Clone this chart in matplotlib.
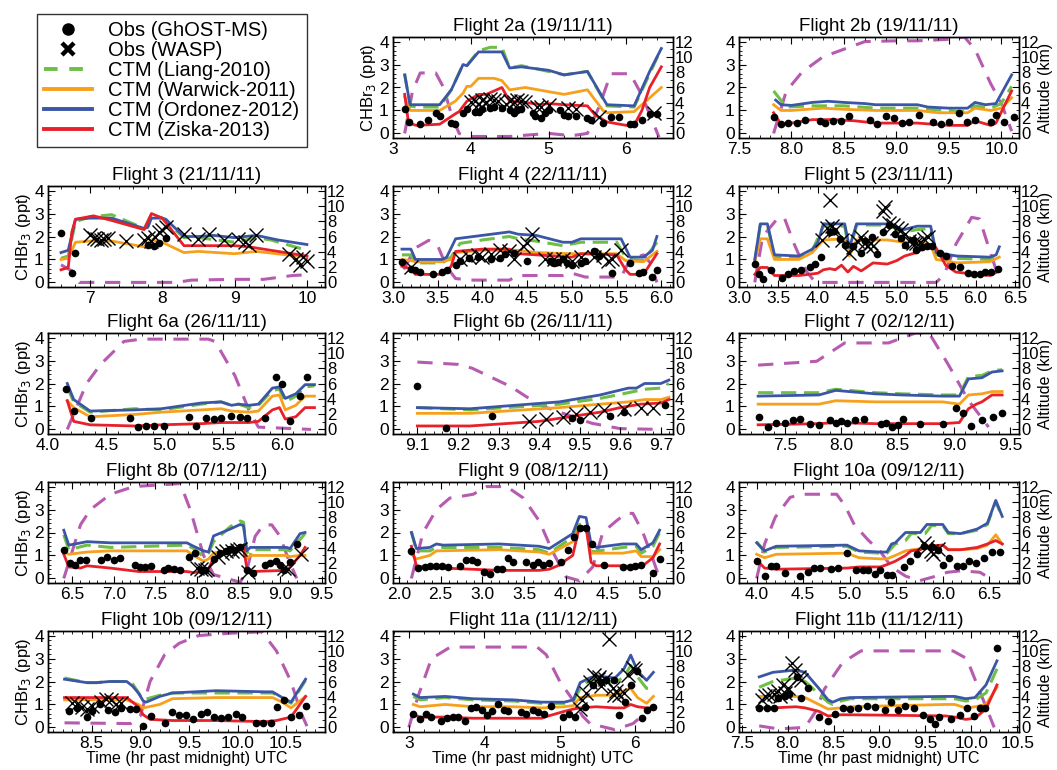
import matplotlib
matplotlib.use("Agg")
import matplotlib.pyplot as plt
from matplotlib.lines import Line2D
from matplotlib.ticker import AutoMinorLocator, FormatStrFormatter

plt.rcParams["font.family"] = ["Liberation Sans", "DejaVu Sans"]

GREEN = "#6dbf45"
ORANGE = "#f7a01c"
BLUE = "#3b56a6"
RED = "#e8202a"
PURPLE = "#b65bb0"

# ---- Flight 2a ----
f2a_liang = [(3.15, 2.6), (3.22, 1.2), (3.3, 1.15), (3.6, 1.15), (3.75, 1.9), (3.9, 3.0), (3.95, 2.95), (4.1, 3.6),
             (4.25, 3.75), (4.4, 3.75), (4.5, 2.85), (4.65, 2.95), (5.0, 2.7), (5.2, 2.55), (5.5, 2.7), (5.75, 1.2),
             (6.1, 1.15), (6.3, 2.6), (6.45, 3.7)]
f2a_warwick = [(3.15, 1.6), (3.22, 1.0), (3.6, 1.0), (3.8, 1.4), (3.9, 1.75), (3.95, 2.05), (4.0, 2.05), (4.1, 2.4),
               (4.3, 2.4), (4.4, 2.3), (4.5, 1.9), (4.7, 2.0), (5.2, 1.7), (5.5, 1.9), (5.7, 1.0), (5.75, 0.9),
               (6.1, 0.95), (6.45, 2.0)]
f2a_ordonez = [(3.15, 2.55), (3.22, 1.25), (3.6, 1.25), (3.75, 1.9), (3.9, 3.0), (3.95, 2.95), (4.1, 3.55), (4.4, 3.55),
               (4.5, 2.85), (4.65, 2.9), (5.0, 2.75), (5.2, 2.55), (5.5, 2.7), (5.75, 1.25), (6.1, 1.2), (6.3, 2.7),
               (6.45, 3.7)]
f2a_ziska = [(3.15, 1.7), (3.2, 0.45), (3.3, 0.35), (3.6, 0.4), (3.8, 0.85), (3.85, 0.95), (3.95, 1.4), (4.1, 1.7),
             (4.2, 1.7), (4.4, 2.0), (4.5, 1.4), (4.7, 1.35), (4.9, 1.25), (5.0, 1.3), (5.2, 1.25), (5.5, 1.2),
             (5.6, 0.8), (5.75, 0.5), (6.0, 0.35), (6.1, 0.35), (6.2, 1.0), (6.3, 2.0), (6.45, 2.9)]
f2a_alt = [(3.15, 0.0), (3.25, 5.5), (3.35, 7.9), (3.55, 7.9), (3.65, 6.0), (3.75, 2.5), (3.85, 0.0), (3.95, -0.4),
           (4.5, -0.4), (5.0, 0.0), (5.3, -0.3), (5.5, 0.0), (5.65, 3.5), (5.8, 7.8), (6.05, 7.8), (6.2, 5.0),
           (6.42, -0.5)]
f2a_ghost = [(3.15, 1.05), (3.2, 0.5), (3.35, 0.4), (3.45, 0.6), (3.55, 0.9), (3.6, 0.75), (3.75, 0.45), (3.8, 0.4),
             (3.9, 0.9), (3.95, 1.05), (4.05, 0.95), (4.1, 0.95), (4.15, 1.05), (4.25, 1.1), (4.3, 1.15), (4.4, 1.1),
             (4.5, 1.0), (4.55, 0.9), (4.6, 1.0), (4.65, 1.05), (4.8, 0.9), (4.82, 0.75), (4.9, 0.65), (4.95, 0.9),
             (5.0, 1.0), (5.15, 1.0), (5.2, 0.8), (5.25, 0.75), (5.35, 0.75), (5.5, 0.65), (5.55, 0.6), (5.7, 0.45),
             (5.8, 0.7), (5.9, 0.7), (6.05, 0.4), (6.1, 0.4), (6.2, 0.6), (6.3, 0.85), (6.4, 0.85)]
f2a_wasp = [(4.0, 1.35), (4.05, 1.4), (4.1, 1.3), (4.15, 1.45), (4.2, 1.35), (4.25, 1.5), (4.3, 1.45), (4.35, 1.4),
            (4.45, 1.3), (4.5, 1.4), (4.55, 1.35), (4.6, 1.45), (4.65, 1.4), (4.7, 1.35), (4.85, 1.15), (4.9, 1.15),
            (5.0, 1.25), (5.25, 1.1), (5.35, 1.05), (5.65, 0.7), (6.35, 0.9)]

# ---- Flight 2b ----
f2b_liang = [(7.83, 1.85), (7.95, 1.15), (8.2, 1.2), (8.5, 1.2), (8.8, 1.1), (9.2, 1.1), (9.6, 0.95), (9.68, 0.95),
             (9.75, 1.2), (9.9, 1.1), (10.0, 1.3), (10.1, 2.05)]
f2b_warwick = [(7.83, 1.25), (7.9, 1.0), (8.0, 1.0), (8.3, 1.1), (8.5, 1.05), (8.8, 1.0), (9.2, 1.0), (9.4, 0.9),
               (9.68, 0.9), (9.75, 1.1), (9.9, 1.0), (10.0, 1.1), (10.1, 1.55)]
f2b_ordonez = [(7.85, 1.45), (7.9, 1.25), (8.0, 1.22), (8.2, 1.35), (8.35, 1.4), (8.5, 1.35), (8.7, 1.3), (8.8, 1.25),
               (9.2, 1.25), (9.3, 1.15), (9.5, 1.1), (9.68, 1.1), (9.75, 1.35), (9.85, 1.25), (9.95, 1.3), (10.1, 2.55)]
f2b_ziska = [(7.83, 0.9), (7.9, 0.4), (8.0, 0.45), (8.2, 0.6), (8.4, 0.6), (8.6, 0.55), (8.8, 0.45), (9.2, 0.45),
             (9.5, 0.35), (9.68, 0.35), (9.75, 0.55), (9.9, 0.35), (9.95, 0.45), (10.1, 1.85)]
f2b_alt = [(7.83, 0.0), (7.95, 5.5), (8.1, 8.0), (8.3, 10.0), (8.5, 11.0), (8.7, 12.0), (9.0, 12.1), (9.2, 12.1),
           (9.5, 12.3), (9.65, 12.6), (9.75, 11.0), (9.9, 6.5), (10.0, 4.0), (10.1, 0.3)]
f2b_ghost = [(7.83, 0.7), (7.9, 0.4), (7.97, 0.45), (8.05, 0.45), (8.13, 0.6), (8.27, 0.55), (8.32, 0.45), (8.4, 0.55),
             (8.47, 0.55), (8.55, 0.75), (8.75, 0.6), (8.82, 0.4), (8.9, 0.75), (8.98, 0.65), (9.05, 0.45), (9.12, 0.5),
             (9.22, 0.8), (9.35, 0.5), (9.43, 0.4), (9.5, 0.5), (9.6, 0.9), (9.67, 0.5), (9.75, 0.6), (9.9, 0.5),
             (9.95, 0.8), (10.03, 0.5), (10.12, 0.7)]
f2b_wasp = []

# ---- Flight 3 ----
f3_liang = [(6.6, 1.05), (6.7, 1.15), (6.8, 2.65), (7.0, 2.85), (7.3, 2.95), (7.75, 2.35), (7.85, 2.95), (8.0, 2.8),
            (8.3, 1.95), (8.5, 1.95), (9.0, 1.75), (9.3, 1.95), (9.5, 1.85), (10.0, 1.4)]
f3_warwick = [(6.6, 1.0), (6.7, 1.05), (6.8, 1.75), (7.0, 1.8), (7.3, 1.8), (7.75, 1.55), (7.85, 1.85), (8.0, 1.75),
              (8.3, 1.3), (8.5, 1.35), (9.0, 1.25), (9.3, 1.35), (10.0, 1.1)]
f3_ordonez = [(6.6, 1.3), (6.7, 1.4), (6.8, 2.75), (7.0, 2.8), (7.3, 2.8), (7.75, 2.35), (7.8, 2.4), (7.85, 2.8),
              (8.0, 2.8), (8.05, 2.75), (8.3, 2.0), (8.5, 2.0), (8.7, 2.05), (9.0, 1.95), (9.3, 2.05), (9.6, 1.85),
              (10.0, 1.65)]
f3_ziska = [(6.6, 0.55), (6.7, 0.65), (6.75, 2.2), (6.8, 2.75), (7.05, 2.9), (7.3, 2.7), (7.75, 2.3), (7.85, 3.0),
            (8.0, 2.8), (8.3, 1.6), (8.5, 1.6), (9.0, 1.6), (9.2, 1.55), (10.0, 1.15)]
f3_alt = [(6.6, 2.3), (6.75, 1.5), (6.85, 0.0), (7.5, 0.0), (8.2, 0.0), (8.4, 0.3), (9.0, 0.4), (9.4, 0.4), (9.8, 0.9),
          (10.0, 1.0)]
f3_ghost = [(6.6, 2.15), (6.75, 0.4), (6.8, 1.3), (7.8, 1.65), (7.88, 1.6), (7.95, 1.7), (8.05, 1.95)]
f3_wasp = [(7.0, 2.05), (7.05, 1.95), (7.1, 1.9), (7.15, 1.85), (7.2, 1.9), (7.25, 1.95), (7.5, 1.8), (7.75, 1.85),
           (7.8, 1.95), (7.85, 1.8), (7.9, 2.0), (7.95, 2.2), (8.0, 2.3), (8.05, 2.4), (8.3, 2.1), (8.5, 1.9),
           (8.65, 2.1), (8.85, 1.85), (9.05, 1.9), (9.15, 1.75), (9.2, 1.65), (9.3, 2.05), (9.75, 1.25), (9.85, 1.0),
           (9.9, 0.75), (9.95, 1.1), (10.0, 0.95)]

# ---- Flight 4 ----
f4_liang = [(3.1, 1.2), (3.2, 1.2), (3.25, 0.85), (3.55, 0.85), (3.65, 1.1), (3.75, 1.7), (4.0, 1.85), (4.3, 2.0),
            (4.4, 1.9), (4.6, 1.8), (4.9, 1.6), (5.1, 1.75), (5.5, 1.75), (5.6, 1.1), (5.65, 1.0), (5.8, 0.95),
            (5.95, 1.75)]
f4_warwick = [(3.1, 1.0), (3.2, 0.95), (3.25, 0.9), (3.55, 0.9), (3.65, 1.0), (3.7, 1.3), (4.0, 1.4), (4.4, 1.4),
              (4.6, 1.3), (5.0, 1.25), (5.5, 1.25), (5.6, 0.95), (5.8, 0.9), (5.95, 1.35)]
f4_ordonez = [(3.1, 1.45), (3.2, 1.45), (3.25, 1.0), (3.55, 1.0), (3.6, 1.1), (3.7, 1.9), (4.3, 2.2), (4.4, 2.1),
              (4.6, 2.05), (4.9, 1.75), (5.0, 1.75), (5.1, 1.9), (5.55, 1.9), (5.65, 1.1), (5.8, 1.1), (5.9, 1.4),
              (5.95, 2.0)]
f4_ziska = [(3.1, 0.7), (3.2, 0.6), (3.25, 0.35), (3.55, 0.35), (3.65, 0.7), (3.7, 1.35), (4.0, 1.45), (4.3, 1.45),
            (4.4, 1.25), (4.6, 1.2), (5.0, 1.1), (5.1, 1.25), (5.5, 1.2), (5.6, 0.55), (5.65, 0.35), (5.8, 0.35),
            (5.95, 1.25)]
f4_alt = [(3.12, 1.7), (3.25, 4.5), (3.4, 5.5), (3.5, 4.8), (3.6, 2.0), (3.7, 0.5), (3.9, 0.3), (4.3, 0.3), (4.4, 0.9),
          (4.9, 0.9), (5.0, 1.2), (5.15, 0.7), (5.55, 0.7), (5.65, 3.0), (5.8, 3.6), (5.88, 2.5), (5.95, 0.0)]
f4_ghost = [(3.1, 0.9), (3.2, 0.6), (3.25, 0.55), (3.3, 0.45), (3.45, 0.35), (3.55, 0.45), (3.6, 0.55), (3.7, 0.75),
            (3.75, 0.95), (3.85, 1.05), (3.95, 1.1), (4.1, 1.0), (4.2, 1.05), (4.25, 1.25), (4.35, 1.3), (4.5, 0.95),
            (4.75, 0.95), (4.8, 0.85), (4.85, 0.9), (4.9, 1.0), (4.95, 0.85), (5.0, 0.75), (5.1, 0.85), (5.15, 0.95),
            (5.25, 1.35), (5.3, 1.15), (5.45, 0.4), (5.65, 0.85), (5.75, 0.4), (5.8, 0.45), (5.9, 0.25), (5.95, 0.55)]
f4_wasp = [(3.2, 0.65), (3.75, 1.0), (3.85, 1.1), (3.95, 1.2), (4.0, 1.1), (4.1, 1.25), (4.2, 1.4), (4.3, 1.35),
           (4.35, 1.0), (4.45, 1.6), (4.5, 1.7), (4.55, 2.1), (4.7, 1.0), (4.8, 1.0), (4.9, 1.0), (5.0, 0.95),
           (5.1, 1.1), (5.25, 1.1), (5.35, 1.2), (5.4, 0.95), (5.45, 1.0), (5.55, 1.4)]

# ---- Flight 5 ----
f5_liang = [(3.2, 0.9), (3.27, 2.5), (3.36, 2.5), (3.45, 1.1), (3.76, 1.1), (3.93, 1.4), (4.07, 2.45), (4.34, 2.45),
            (4.4, 1.3), (4.49, 2.5), (4.88, 2.5), (5.09, 2.2), (5.26, 2.3), (5.43, 2.35), (5.5, 1.2), (5.76, 1.05),
            (6.18, 1.0), (6.3, 1.35)]
f5_warwick = [(3.2, 0.9), (3.27, 1.9), (3.36, 1.9), (3.45, 1.0), (3.76, 1.0), (3.93, 1.3), (4.07, 1.85), (4.34, 1.9),
              (4.4, 1.15), (4.49, 1.85), (4.88, 1.85), (5.09, 1.75), (5.26, 1.75), (5.43, 1.65), (5.5, 1.0),
              (5.76, 0.85), (6.18, 0.9), (6.3, 1.1)]
f5_ordonez = [(3.2, 1.0), (3.27, 2.55), (3.36, 2.55), (3.45, 1.2), (3.76, 1.15), (3.93, 1.45), (4.0, 1.75),
              (4.07, 2.55), (4.34, 2.55), (4.4, 1.5), (4.49, 2.55), (4.88, 2.55), (5.09, 2.3), (5.26, 2.45),
              (5.43, 2.45), (5.5, 1.3), (5.76, 1.15), (6.18, 1.1), (6.26, 1.2), (6.3, 1.55)]
f5_ziska = [(3.2, 0.35), (3.27, 0.65), (3.36, 0.65), (3.45, 0.3), (3.76, 0.3), (4.0, 0.4), (4.07, 0.55), (4.15, 0.6),
            (4.22, 0.55), (4.3, 0.75), (4.38, 0.45), (4.45, 0.7), (4.55, 0.5), (4.7, 0.85), (4.88, 0.8), (5.0, 0.95),
            (5.1, 1.15), (5.25, 1.3), (5.4, 1.6), (5.5, 1.5), (5.62, 0.75), (5.75, 0.45), (6.0, 0.35), (6.18, 0.3),
            (6.3, 0.5)]
f5_alt = [(3.2, 0.0), (3.3, 6.0), (3.5, 8.5), (3.58, 8.3), (3.7, 5.0), (3.85, 1.5), (3.97, 0.0), (5.5, 0.0), (5.6, 1.0),
          (5.75, 5.0), (5.95, 8.5), (6.05, 8.3), (6.2, 3.5), (6.28, 1.0)]
f5_ghost = [(3.2, 0.8), (3.25, 0.35), (3.3, 0.15), (3.4, 0.55), (3.55, 0.2), (3.62, 0.35), (3.7, 0.5), (3.78, 0.55),
            (3.9, 0.65), (3.96, 0.8), (4.04, 1.1), (4.15, 2.2), (4.2, 2.25), (4.28, 1.9), (4.35, 1.65), (4.45, 1.6),
            (4.55, 1.3), (4.6, 1.8), (4.68, 2.0), (4.75, 1.25), (4.82, 2.2), (4.9, 2.5), (4.98, 2.1), (5.05, 1.95),
            (5.1, 1.65), (5.2, 1.85), (5.25, 1.4), (5.32, 1.55), (5.38, 1.6), (5.45, 1.6), (5.55, 1.3), (5.63, 1.15),
            (5.7, 0.7), (5.8, 0.65), (5.9, 0.4), (5.98, 0.35), (6.05, 0.35), (6.12, 0.45), (6.2, 0.45), (6.28, 0.6)]
f5_wasp = [(4.05, 1.85), (4.12, 2.35), (4.15, 3.6), (4.18, 2.45), (4.22, 2.3), (4.3, 1.85), (4.4, 1.3), (4.45, 1.55),
           (4.5, 1.8), (4.55, 2.0), (4.6, 1.7), (4.62, 1.6), (4.67, 1.7), (4.7, 1.6), (4.82, 3.1), (4.85, 3.3),
           (4.9, 2.6), (4.95, 2.5), (5.0, 2.35), (5.05, 2.3), (5.1, 2.1), (5.15, 1.8), (5.2, 1.7), (5.25, 1.7),
           (5.3, 1.75), (5.35, 1.9), (5.4, 2.0)]

# ---- Flight 6a ----
f6a_liang = [(4.165, 1.85), (4.22, 1.2), (4.36, 0.75), (4.74, 0.9), (4.97, 0.85), (5.31, 1.1), (5.48, 1.2), (5.57, 1.05),
             (5.63, 1.1), (5.72, 0.95), (5.8, 1.05), (5.92, 1.7), (5.98, 1.75), (6.03, 1.2), (6.12, 1.45), (6.2, 1.85),
             (6.28, 1.9)]
f6a_warwick = [(4.165, 1.25), (4.22, 0.95), (4.36, 0.55), (4.74, 0.65), (4.97, 0.75), (5.31, 0.85), (5.48, 0.9),
               (5.57, 0.8), (5.72, 0.75), (5.8, 0.8), (5.92, 1.45), (5.98, 1.5), (6.03, 0.85), (6.12, 1.05),
               (6.2, 1.45), (6.28, 1.45)]
f6a_ordonez = [(4.165, 2.0), (4.22, 1.3), (4.36, 0.8), (4.74, 0.85), (4.97, 0.9), (5.31, 1.15), (5.48, 1.2),
               (5.57, 1.05), (5.63, 1.1), (5.72, 1.05), (5.8, 1.1), (5.92, 1.8), (5.98, 1.85), (6.03, 1.35),
               (6.12, 1.55), (6.2, 1.95), (6.28, 1.95)]
f6a_ziska = [(4.165, 1.25), (4.22, 0.35), (4.36, 0.2), (4.74, 0.15), (4.97, 0.2), (5.31, 0.25), (5.48, 0.3),
             (5.72, 0.3), (5.8, 0.35), (5.92, 0.85), (5.98, 0.95), (6.03, 0.45), (6.12, 0.55), (6.2, 0.95),
             (6.28, 0.95)]
f6a_alt = [(4.165, 0.0), (4.33, 6.0), (4.45, 8.5), (4.65, 11.5), (4.8, 11.8), (5.37, 11.8), (5.43, 11.5), (5.6, 7.0),
           (5.72, 2.5), (5.8, 0.3), (6.25, 0.0)]
f6a_ghost = [(4.15, 1.75), (4.22, 0.8), (4.37, 0.5), (4.7, 0.5), (4.77, 0.1), (4.84, 0.15), (4.91, 0.15), (4.99, 0.15),
             (5.21, 0.55), (5.27, 0.15), (5.35, 0.5), (5.42, 0.45), (5.48, 0.5), (5.57, 0.6), (5.64, 0.55), (5.7, 0.5),
             (5.86, 0.5), (5.95, 2.27), (6.0, 1.96), (6.07, 0.35), (6.16, 1.45), (6.22, 2.3)]
f6a_wasp = []

# ---- Flight 6b ----
f6b_liang = [(9.1, 0.95), (9.23, 0.85), (9.45, 1.1), (9.55, 1.35), (9.62, 1.6), (9.66, 1.75), (9.7, 1.8), (9.72, 2.0)]
f6b_warwick = [(9.1, 0.7), (9.23, 0.7), (9.45, 0.95), (9.55, 1.1), (9.62, 1.2), (9.66, 1.3), (9.7, 1.3), (9.72, 1.4)]
f6b_ordonez = [(9.1, 0.95), (9.23, 0.9), (9.45, 1.2), (9.55, 1.5), (9.62, 1.8), (9.64, 1.8), (9.66, 2.0), (9.7, 2.0),
               (9.72, 2.15)]
f6b_ziska = [(9.1, 0.15), (9.23, 0.15), (9.4, 0.35), (9.55, 0.75), (9.6, 0.95), (9.65, 1.1), (9.7, 1.15), (9.72, 1.3)]
f6b_alt = [(9.1, 8.8), (9.2, 8.5), (9.235, 8.0), (9.33, 5.6), (9.4, 3.2), (9.47, 1.9), (9.53, 0.8), (9.6, 0.1),
           (9.7, 0.0)]
f6b_ghost = [(9.1, 1.9), (9.17, 0.05), (9.285, 0.58), (9.48, 0.5), (9.5, 0.4), (9.575, 0.6), (9.61, 0.75),
             (9.71, 1.05)]
f6b_wasp = [(9.375, 0.35), (9.417, 0.45), (9.46, 0.55), (9.49, 0.65), (9.525, 0.75), (9.56, 0.85), (9.61, 0.9),
            (9.65, 0.95), (9.68, 0.95)]

# ---- Flight 7 ----
f7_liang = [(7.26, 1.6), (7.8, 1.6), (7.95, 1.75), (8.3, 1.6), (8.54, 1.55), (8.9, 1.5), (9.05, 1.5), (9.13, 2.3),
            (9.25, 2.35), (9.34, 2.55), (9.43, 2.6)]
f7_warwick = [(7.26, 1.1), (7.8, 1.1), (7.95, 1.25), (8.3, 1.2), (8.9, 1.2), (9.05, 1.1), (9.13, 1.5), (9.25, 1.55),
              (9.34, 1.65), (9.43, 1.65)]
f7_ordonez = [(7.26, 1.45), (7.8, 1.5), (7.95, 1.7), (8.3, 1.55), (8.54, 1.5), (8.9, 1.45), (9.05, 1.45), (9.13, 2.2),
              (9.25, 2.25), (9.34, 2.5), (9.43, 2.55)]
f7_ziska = [(7.26, 0.2), (7.8, 0.25), (7.95, 0.3), (8.3, 0.25), (8.9, 0.25), (9.05, 0.3), (9.13, 0.9), (9.2, 1.1),
            (9.25, 1.2), (9.34, 1.5), (9.43, 1.5)]
f7_alt = [(7.26, 8.4), (7.78, 8.9), (8.03, 11.3), (8.42, 11.3), (8.66, 12.6), (8.78, 12.6), (8.95, 8.5), (9.13, 3.8),
          (9.31, 0.3)]
f7_ghost = [(7.27, 0.55), (7.35, 0.1), (7.42, 0.3), (7.5, 0.3), (7.57, 0.4), (7.63, 0.45), (7.72, 0.25), (7.8, 0.2),
            (7.9, 0.4), (7.95, 0.3), (8.0, 0.35), (8.05, 0.3), (8.12, 0.4), (8.2, 0.45), (8.35, 0.25), (8.4, 0.3),
            (8.45, 0.1), (8.5, 0.2), (8.55, 0.45), (8.7, 0.25), (8.9, 0.25), (9.02, 0.95), (9.08, 0.7), (9.15, 0.15),
            (9.25, 0.4), (9.35, 0.55), (9.43, 0.7)]
f7_wasp = []

# ---- Flight 8b ----
f8b_liang = [(6.4, 1.9), (6.46, 1.25), (6.68, 1.45), (6.96, 1.35), (7.88, 1.45), (7.96, 1.3), (8.08, 0.95), (8.14, 1.1),
             (8.2, 1.6), (8.4, 2.25), (8.52, 2.5), (8.56, 2.45), (8.6, 1.1), (8.64, 1.25), (9.08, 1.25), (9.12, 1.2),
             (9.24, 1.7), (9.3, 1.95)]
f8b_warwick = [(6.4, 1.15), (6.46, 1.05), (6.68, 1.15), (6.96, 1.2), (7.88, 1.2), (7.96, 1.0), (8.08, 0.75),
               (8.14, 0.85), (8.2, 1.1), (8.4, 1.25), (8.52, 1.35), (8.56, 1.3), (8.6, 0.85), (8.64, 1.0), (9.08, 1.0),
               (9.12, 0.95), (9.24, 1.0), (9.3, 1.0)]
f8b_ordonez = [(6.4, 2.1), (6.46, 1.45), (6.68, 1.6), (6.96, 1.55), (7.88, 1.55), (7.96, 1.4), (8.08, 1.2),
               (8.14, 1.15), (8.2, 1.85), (8.4, 2.15), (8.52, 2.35), (8.56, 2.3), (8.6, 1.2), (8.64, 1.35), (9.08, 1.35),
               (9.12, 1.3), (9.24, 1.95), (9.3, 2.0)]
f8b_ziska = [(6.4, 1.05), (6.46, 0.5), (6.6, 0.45), (6.68, 0.55), (6.96, 0.45), (7.3, 0.3), (7.88, 0.3), (7.96, 0.25),
             (8.08, 0.35), (8.14, 0.4), (8.2, 0.9), (8.4, 1.2), (8.52, 1.35), (8.56, 1.35), (8.6, 0.45), (8.64, 0.3),
             (9.08, 0.35), (9.12, 0.5), (9.24, 1.0), (9.3, 1.35)]
f8b_alt = [(6.4, 0.0), (6.6, 7.0), (6.72, 9.0), (6.96, 11.0), (7.24, 12.0), (7.8, 12.4), (7.92, 9.0), (8.08, 3.0),
           (8.2, 0.5), (8.52, -0.5), (8.6, 1.0), (8.7, 5.5), (8.8, 7.0), (8.9, 7.0), (9.0, 5.5), (9.1, 2.5),
           (9.2, 0.0)]
f8b_ghost = [(6.4, 1.25), (6.47, 0.65), (6.53, 0.6), (6.6, 0.8), (6.67, 0.8), (6.85, 0.8), (6.92, 0.95), (7.0, 0.8),
             (7.07, 0.9), (7.25, 0.6), (7.32, 0.5), (7.38, 0.5), (7.45, 0.55), (7.6, 0.35), (7.65, 0.45), (7.73, 0.4),
             (7.8, 0.35), (7.9, 0.95), (7.98, 1.1), (8.05, 0.35), (8.1, 0.35), (8.2, 0.85), (8.28, 1.1), (8.35, 1.2),
             (8.4, 1.3), (8.45, 1.25), (8.52, 1.35), (8.6, 0.35), (8.67, 0.25), (8.82, 0.6), (8.88, 0.65),
             (8.95, 0.75), (9.0, 0.6), (9.05, 0.35), (9.12, 0.7), (9.2, 1.5)]
f8b_wasp = [(8.0, 0.45), (8.05, 0.4), (8.1, 0.35), (8.12, 0.4), (8.25, 0.95), (8.3, 1.1), (8.35, 1.2), (8.42, 1.2),
            (8.48, 1.25), (8.52, 1.3), (8.62, 0.3), (9.05, 0.45), (9.1, 0.4), (9.25, 1.05)]

# ---- Flight 9 ----
f9_liang = [(2.15, 2.05), (2.21, 1.2), (2.37, 1.2), (2.45, 1.35), (3.2, 1.35), (3.68, 1.25), (3.8, 1.1), (4.08, 1.8),
            (4.16, 2.35), (4.24, 2.3), (4.3, 1.15), (4.68, 1.35), (4.84, 1.4), (4.9, 1.1), (5.04, 1.4), (5.12, 2.0)]
f9_warwick = [(2.15, 1.05), (2.21, 0.85), (2.37, 1.0), (2.45, 1.2), (3.2, 1.25), (3.68, 1.15), (3.8, 1.05),
              (4.08, 1.6), (4.16, 2.15), (4.24, 2.15), (4.3, 1.1), (4.68, 1.1), (4.84, 1.2), (4.9, 0.95), (5.04, 0.95),
              (5.12, 1.25)]
f9_ordonez = [(2.15, 2.0), (2.21, 1.3), (2.37, 1.35), (2.45, 1.5), (2.53, 1.45), (3.2, 1.5), (3.68, 1.4), (3.8, 1.3),
              (4.08, 1.95), (4.16, 2.7), (4.24, 2.65), (4.3, 1.5), (4.36, 1.35), (4.68, 1.5), (4.84, 1.5), (4.9, 1.25),
              (5.04, 1.55), (5.12, 2.1)]
f9_ziska = [(2.15, 1.4), (2.21, 0.55), (2.37, 0.45), (2.53, 0.45), (3.2, 0.35), (3.68, 0.35), (3.8, 0.4), (3.9, 0.55),
            (4.08, 1.0), (4.16, 2.25), (4.24, 2.25), (4.3, 0.7), (4.36, 0.55), (4.68, 0.55), (4.84, 0.5), (4.9, 0.5),
            (5.04, 0.9), (5.12, 1.5)]
f9_alt = [(2.15, 0.0), (2.29, 6.0), (2.45, 9.0), (2.61, 10.5), (2.73, 10.7), (2.89, 11.0), (3.05, 12.0), (3.29, 12.0),
          (3.49, 10.5), (3.68, 7.5), (3.84, 3.5), (4.0, 0.2), (4.16, -0.3), (4.32, 1.5), (4.44, 6.0), (4.6, 7.5),
          (4.72, 8.5), (4.8, 8.5), (4.92, 6.0), (5.04, 2.5), (5.12, 0.0)]
f9_ghost = [(2.15, 1.2), (2.23, 0.45), (2.31, 0.5), (2.37, 0.55), (2.45, 0.55), (2.52, 0.55), (2.59, 0.5), (2.73, 0.55),
            (2.8, 0.8), (2.87, 0.8), (2.94, 0.7), (3.02, 0.3), (3.09, 0.2), (3.17, 0.4), (3.23, 0.4), (3.31, 0.9),
            (3.37, 0.7), (3.52, 0.7), (3.6, 0.6), (3.66, 0.7), (3.73, 0.6), (3.8, 0.65), (3.94, 0.7), (4.02, 1.25),
            (4.09, 1.8), (4.17, 2.2), (4.24, 2.2), (4.31, 1.5), (4.46, 0.6), (4.68, 0.5), (4.76, 0.5), (4.83, 0.55),
            (4.9, 0.6), (5.04, 0.25), (5.12, 0.85)]
f9_wasp = []

# ---- Flight 10a ----
f10a_liang = [(4.0, 1.6), (4.085, 1.15), (4.21, 1.35), (4.97, 1.4), (5.1, 1.15), (5.33, 1.1), (5.4, 1.1), (5.49, 1.5),
              (5.6, 1.65), (5.66, 1.95), (5.81, 1.95), (5.88, 2.3), (6.0, 2.3), (6.06, 1.95), (6.19, 1.95),
              (6.37, 2.1), (6.48, 2.35), (6.57, 3.35), (6.64, 2.65)]
f10a_warwick = [(4.0, 1.05), (4.085, 0.9), (4.21, 1.05), (4.97, 1.1), (5.1, 0.9), (5.33, 0.85), (5.4, 0.85),
                (5.49, 1.0), (5.6, 1.2), (5.76, 1.3), (5.83, 1.4), (6.0, 1.45), (6.06, 1.25), (6.19, 1.25),
                (6.37, 1.3), (6.48, 1.45), (6.57, 1.9), (6.64, 1.5)]
f10a_ordonez = [(4.0, 1.55), (4.085, 1.2), (4.21, 1.4), (4.97, 1.45), (5.1, 1.2), (5.33, 1.15), (5.4, 1.15),
                (5.45, 1.5), (5.49, 1.55), (5.6, 2.0), (5.76, 2.0), (5.83, 2.35), (6.0, 2.35), (6.06, 2.0),
                (6.19, 1.95), (6.37, 2.15), (6.48, 2.4), (6.57, 3.4), (6.64, 2.7)]
f10a_ziska = [(4.0, 0.8), (4.085, 0.45), (4.21, 0.4), (4.97, 0.45), (5.1, 0.5), (5.33, 0.5), (5.4, 0.6), (5.49, 0.75),
              (5.6, 1.0), (5.66, 1.2), (5.76, 1.25), (5.83, 1.4), (6.0, 1.45), (6.06, 1.25), (6.19, 1.25),
              (6.37, 1.35), (6.48, 1.5), (6.57, 1.65), (6.64, 1.5)]
f10a_alt = [(4.0, 0.0), (4.085, 4.5), (4.2, 8.0), (4.36, 10.6), (4.5, 11.0), (4.86, 11.0), (4.95, 9.5), (5.05, 7.0),
            (5.2, 5.0), (5.33, 3.5), (5.45, 1.5), (5.6, 0.3), (5.75, -0.3), (5.9, 0.2), (6.05, 0.8), (6.2, 1.0),
            (6.4, 0.8), (6.55, -0.3)]
f10a_ghost = [(4.0, 0.75), (4.085, 0.1), (4.15, 0.55), (4.21, 0.55), (4.3, 0.25), (4.47, 0.1), (4.55, 0.3),
              (4.62, 0.45), (4.68, 0.45), (4.8, 0.4), (4.87, 0.45), (4.97, 1.1), (5.07, 0.35), (5.14, 0.35),
              (5.2, 0.35), (5.27, 0.2), (5.33, 0.35), (5.4, 0.15), (5.46, 0.15), (5.58, 0.5), (5.65, 0.75),
              (5.72, 1.05), (5.8, 1.4), (5.88, 1.35), (5.95, 1.25), (6.0, 0.6), (6.07, 0.9), (6.15, 0.55), (6.22, 0.55),
              (6.28, 0.75), (6.36, 0.65), (6.44, 0.9), (6.53, 1.15), (6.62, 1.15)]
f10a_wasp = [(5.8, 1.55), (5.83, 1.35), (5.87, 1.2), (5.9, 1.05), (5.95, 1.3)]

# ---- Flight 10b ----
f10b_liang = [(8.22, 2.15), (8.45, 1.95), (8.55, 1.95), (8.68, 2.0), (8.86, 2.0), (8.92, 1.9), (9.03, 1.2),
              (9.2, 1.4), (9.33, 1.5), (9.78, 1.5), (10.36, 1.5), (10.46, 1.3), (10.55, 1.05), (10.7, 2.05)]
f10b_warwick = [(8.22, 1.2), (8.86, 1.2), (8.98, 1.0), (9.03, 0.85), (9.2, 1.0), (9.33, 1.25), (9.78, 1.3),
                (10.36, 1.3), (10.46, 1.1), (10.55, 0.85), (10.7, 1.35)]
f10b_ordonez = [(8.22, 2.1), (8.45, 1.95), (8.55, 1.95), (8.68, 2.0), (8.86, 2.0), (8.92, 1.8), (8.98, 1.5),
                (9.03, 1.15), (9.06, 1.1), (9.2, 1.35), (9.33, 1.5), (9.78, 1.6), (10.29, 1.55), (10.36, 1.55),
                (10.46, 1.3), (10.55, 1.1), (10.7, 2.1)]
f10b_ziska = [(8.22, 1.3), (8.86, 1.3), (8.98, 0.9), (9.03, 0.55), (9.1, 0.35), (9.33, 0.3), (9.78, 0.3),
              (10.29, 0.25), (10.4, 0.3), (10.55, 0.45), (10.7, 1.35)]
f10b_alt = [(8.22, 0.6), (8.9, 0.5), (9.0, 1.5), (9.1, 6.0), (9.25, 9.5), (9.4, 11.0), (9.6, 12.0), (9.9, 12.3),
            (10.25, 12.5), (10.4, 10.0), (10.55, 6.0), (10.65, 2.0), (10.72, 0.0)]
f10b_ghost = [(8.27, 0.7), (8.35, 0.85), (8.45, 0.45), (8.5, 0.7), (8.58, 1.0), (8.67, 0.75), (8.74, 0.65), (8.8, 0.85),
              (8.89, 0.8), (8.96, 0.8), (9.03, 0.05), (9.11, 0.5), (9.25, 0.2), (9.33, 0.65), (9.4, 0.55),
              (9.47, 0.55), (9.54, 0.35), (9.62, 0.6), (9.69, 0.65), (9.76, 0.45), (9.83, 0.4), (9.9, 0.45),
              (9.98, 0.6), (10.05, 0.45), (10.19, 0.2), (10.26, 0.2), (10.34, 0.2), (10.41, 0.9), (10.48, 1.2),
              (10.55, 0.45), (10.63, 0.55), (10.7, 0.95)]
f10b_wasp = [(8.3, 1.05), (8.35, 1.0), (8.4, 0.9), (8.45, 0.8), (8.5, 0.95), (8.6, 1.1), (8.65, 1.25), (8.7, 1.2),
             (8.75, 1.0), (8.8, 1.05)]

# ---- Flight 11a ----
f11a_liang = [(3.06, 1.35), (3.15, 1.2), (3.48, 1.3), (3.85, 1.2), (4.39, 1.15), (4.76, 1.05), (5.06, 1.05),
              (5.18, 1.15), (5.27, 1.7), (5.39, 2.05), (5.48, 2.1), (5.73, 1.95), (5.85, 2.2), (5.94, 2.7),
              (6.03, 2.2), (6.15, 1.7), (6.24, 1.75)]
f11a_warwick = [(3.06, 1.0), (3.15, 0.9), (3.48, 1.0), (3.85, 0.9), (4.39, 0.9), (4.76, 0.85), (5.06, 0.9),
                (5.18, 0.95), (5.27, 1.3), (5.39, 1.35), (5.48, 1.4), (5.73, 1.4), (5.85, 1.6), (5.94, 1.7),
                (6.03, 1.3), (6.15, 1.05), (6.24, 1.35)]
f11a_ordonez = [(3.06, 1.45), (3.15, 1.3), (3.48, 1.35), (3.85, 1.25), (4.39, 1.2), (4.76, 1.1), (5.06, 1.1),
                (5.18, 1.2), (5.27, 1.95), (5.39, 2.15), (5.48, 2.25), (5.73, 2.15), (5.85, 2.55), (5.94, 3.15),
                (6.03, 2.45), (6.15, 2.05), (6.24, 2.4)]
f11a_ziska = [(3.06, 0.55), (3.15, 0.45), (3.48, 0.45), (3.85, 0.4), (4.39, 0.4), (4.76, 0.4), (4.85, 0.5),
              (5.06, 0.7), (5.18, 0.8), (5.27, 0.85), (5.48, 0.9), (5.73, 0.85), (5.85, 0.85), (5.94, 1.0),
              (6.03, 0.9), (6.15, 0.85), (6.24, 0.85)]
f11a_alt = [(3.0, 0.0), (3.12, 4.0), (3.3, 9.0), (3.55, 10.5), (4.7, 10.5), (4.82, 9.5), (5.0, 6.0), (5.18, 3.5),
            (5.3, 1.5), (5.4, 0.5), (5.73, -0.3), (5.97, 0.5), (6.09, 1.5)]
f11a_ghost = [(3.06, 0.6), (3.15, 0.35), (3.23, 0.6), (3.3, 0.45), (3.42, 0.3), (3.5, 0.4), (3.58, 0.45), (3.65, 0.45),
              (3.74, 0.3), (3.82, 0.85), (3.89, 0.9), (3.97, 0.75), (4.03, 0.55), (4.1, 0.7), (4.18, 1.0),
              (4.26, 0.75), (4.32, 0.7), (4.48, 0.65), (4.55, 0.6), (4.64, 0.75), (4.71, 0.65), (4.79, 0.6),
              (4.89, 0.95), (5.04, 0.45), (5.12, 0.6), (5.2, 0.45), (5.33, 0.9), (5.44, 1.85), (5.55, 2.0),
              (5.61, 2.05), (5.72, 2.05), (5.79, 0.55), (5.87, 1.1), (5.94, 1.85), (6.02, 2.45), (6.09, 0.4),
              (6.16, 0.75), (6.24, 0.9)]
f11a_wasp = [(5.27, 0.8), (5.3, 1.2), (5.35, 1.5), (5.4, 2.0), (5.45, 2.3), (5.5, 2.1), (5.52, 2.2), (5.55, 1.8),
             (5.6, 2.1), (5.65, 3.85), (5.7, 1.7), (5.72, 1.4), (5.75, 1.6), (5.78, 1.4), (5.85, 1.5), (5.9, 2.3),
             (5.97, 2.6), (6.0, 2.5)]

# ---- Flight 11b ----
f11b_liang = [(7.69, 1.75), (7.84, 2.0), (8.09, 2.15), (8.19, 2.0), (8.34, 1.45), (8.44, 1.1), (8.49, 1.0),
              (8.58, 1.15), (8.68, 1.25), (9.72, 1.25), (9.82, 1.25), (9.94, 1.15), (10.04, 1.2), (10.16, 1.5),
              (10.28, 2.55)]
f11b_warwick = [(7.69, 1.35), (7.84, 1.35), (8.09, 1.35), (8.19, 1.3), (8.34, 1.0), (8.44, 0.8), (8.58, 0.85),
                (8.68, 0.9), (9.72, 1.0), (9.82, 1.0), (9.94, 0.85), (10.04, 0.9), (10.16, 1.0), (10.28, 1.75)]
f11b_ordonez = [(7.69, 2.2), (7.84, 2.4), (8.09, 2.5), (8.19, 2.4), (8.34, 1.7), (8.44, 1.2), (8.49, 1.1),
                (8.58, 1.25), (8.68, 1.3), (9.72, 1.35), (9.82, 1.35), (9.94, 1.25), (10.04, 1.3), (10.16, 1.85),
                (10.28, 2.9)]
f11b_ziska = [(7.69, 0.85), (7.84, 0.85), (8.09, 0.9), (8.19, 0.85), (8.34, 0.7), (8.44, 0.5), (8.58, 0.55),
              (8.68, 0.55), (9.72, 0.5), (9.82, 0.45), (9.94, 0.35), (10.04, 0.4), (10.16, 0.8), (10.28, 1.85)]
f11b_alt = [(7.69, 0.2), (7.9, -0.2), (8.19, 0.0), (8.3, 2.0), (8.4, 5.0), (8.6, 8.5), (8.8, 10.0), (9.8, 10.0),
            (9.95, 9.0), (10.05, 6.0), (10.15, 3.0), (10.25, 0.0)]
f11b_ghost = [(7.69, 0.85), (7.78, 0.85), (7.85, 0.85), (7.9, 1.3), (7.97, 1.35), (8.02, 1.45), (8.1, 2.2),
              (8.15, 1.3), (8.22, 1.7), (8.34, 0.45), (8.44, 0.3), (8.52, 0.6), (8.6, 0.85), (8.68, 0.8), (8.77, 0.85),
              (8.86, 0.95), (8.95, 0.9), (9.06, 0.75), (9.13, 1.1), (9.2, 0.75), (9.28, 0.95), (9.38, 0.85),
              (9.47, 0.55), (9.55, 0.35), (9.6, 0.15), (9.65, 0.45), (9.78, 0.35), (9.88, 0.55), (9.95, 0.85),
              (10.03, 0.5), (10.1, 0.85), (10.15, 0.85), (10.28, 3.45)]
f11b_wasp = [(7.72, 1.2), (7.75, 1.35), (7.8, 1.4), (7.85, 1.45), (7.9, 1.6), (7.92, 1.35), (7.95, 1.85), (7.97, 1.5),
             (8.0, 1.7), (8.05, 2.8), (8.08, 2.5), (8.12, 2.2), (8.15, 2.05)]

# panel table: (row, col, title, xlim, xticks, tick format, series...)
panels = [
    (0, 1, "Flight 2a (19/11/11)", (3.0, 6.6), [3, 4, 5, 6], "%d",
     f2a_liang, f2a_warwick, f2a_ordonez, f2a_ziska, f2a_alt, f2a_ghost, f2a_wasp),
    (0, 2, "Flight 2b (19/11/11)", (7.5, 10.17), [7.5, 8.0, 8.5, 9.0, 9.5, 10.0], "%.1f",
     f2b_liang, f2b_warwick, f2b_ordonez, f2b_ziska, f2b_alt, f2b_ghost, f2b_wasp),
    (1, 0, "Flight 3 (21/11/11)", (6.42, 10.25), [7, 8, 9, 10], "%d",
     f3_liang, f3_warwick, f3_ordonez, f3_ziska, f3_alt, f3_ghost, f3_wasp),
    (1, 1, "Flight 4 (22/11/11)", (3.0, 6.13), [3.0, 3.5, 4.0, 4.5, 5.0, 5.5, 6.0], "%.1f",
     f4_liang, f4_warwick, f4_ordonez, f4_ziska, f4_alt, f4_ghost, f4_wasp),
    (1, 2, "Flight 5 (23/11/11)", (3.0, 6.55), [3.0, 3.5, 4.0, 4.5, 5.0, 5.5, 6.0, 6.5], "%.1f",
     f5_liang, f5_warwick, f5_ordonez, f5_ziska, f5_alt, f5_ghost, f5_wasp),
    (2, 0, "Flight 6a (26/11/11)", (4.0, 6.37), [4.0, 4.5, 5.0, 5.5, 6.0], "%.1f",
     f6a_liang, f6a_warwick, f6a_ordonez, f6a_ziska, f6a_alt, f6a_ghost, f6a_wasp),
    (2, 1, "Flight 6b (26/11/11)", (9.04, 9.73), [9.1, 9.2, 9.3, 9.4, 9.5, 9.6, 9.7], "%.1f",
     f6b_liang, f6b_warwick, f6b_ordonez, f6b_ziska, f6b_alt, f6b_ghost, f6b_wasp),
    (2, 2, "Flight 7 (02/12/11)", (7.09, 9.58), [7.5, 8.0, 8.5, 9.0, 9.5], "%.1f",
     f7_liang, f7_warwick, f7_ordonez, f7_ziska, f7_alt, f7_ghost, f7_wasp),
    (3, 0, "Flight 8b (07/12/11)", (6.21, 9.54), [6.5, 7.0, 7.5, 8.0, 8.5, 9.0, 9.5], "%.1f",
     f8b_liang, f8b_warwick, f8b_ordonez, f8b_ziska, f8b_alt, f8b_ghost, f8b_wasp),
    (3, 1, "Flight 9 (08/12/11)", (1.93, 5.28), [2.0, 2.5, 3.0, 3.5, 4.0, 4.5, 5.0], "%.1f",
     f9_liang, f9_warwick, f9_ordonez, f9_ziska, f9_alt, f9_ghost, f9_wasp),
    (3, 2, "Flight 10a (09/12/11)", (3.81, 6.82), [4.0, 4.5, 5.0, 5.5, 6.0, 6.5], "%.1f",
     f10a_liang, f10a_warwick, f10a_ordonez, f10a_ziska, f10a_alt, f10a_ghost, f10a_wasp),
    (4, 0, "Flight 10b (09/12/11)", (8.05, 10.9), [8.5, 9.0, 9.5, 10.0, 10.5], "%.1f",
     f10b_liang, f10b_warwick, f10b_ordonez, f10b_ziska, f10b_alt, f10b_ghost, f10b_wasp),
    (4, 1, "Flight 11a (11/12/11)", (2.79, 6.5), [3, 4, 5, 6], "%d",
     f11a_liang, f11a_warwick, f11a_ordonez, f11a_ziska, f11a_alt, f11a_ghost, f11a_wasp),
    (4, 2, "Flight 11b (11/12/11)", (7.47, 10.52), [7.5, 8.0, 8.5, 9.0, 9.5, 10.0, 10.5], "%.1f",
     f11b_liang, f11b_warwick, f11b_ordonez, f11b_ziska, f11b_alt, f11b_ghost, f11b_wasp),
]

W, H = 1057, 770
col_left = [48, 393, 739]
col_width = [277, 280, 280]
row_bottom = [138, 287, 434, 583, 732]
ax_height = 101


def xy(pairs):
    return [p[0] for p in pairs], [p[1] for p in pairs]


fig = plt.figure(figsize=(W / 100, H / 100), dpi=100)

for (r, c, title, xlim, xticks, fmt, liang, warwick, ordonez, ziska, alt, ghost, wasp) in panels:
    rect = [col_left[c] / W, 1 - row_bottom[r] / H, col_width[c] / W, ax_height / H]
    ax = fig.add_axes(rect)
    ax2 = ax.twinx()
    ax.set_zorder(ax2.get_zorder() + 1)
    ax.patch.set_visible(False)

    ax2.plot(*xy(alt), color=PURPLE, lw=2.2, dashes=(5, 3.5))
    ax.plot(*xy(liang), color=GREEN, lw=2.2, dashes=(5, 2.5))
    ax.plot(*xy(warwick), color=ORANGE, lw=2)
    ax.plot(*xy(ordonez), color=BLUE, lw=2)
    ax.plot(*xy(ziska), color=RED, lw=2)
    if ghost:
        ax.plot(*xy(ghost), "o", color="black", ms=4.5, ls="none")
    if wasp:
        ax.plot(*xy(wasp), "x", color="black", ms=10, mew=1.0, ls="none")

    ax.set_xlim(*xlim)
    ax.set_ylim(-0.2, 4.2)
    ax2.set_ylim(-0.6, 12.6)
    ax.set_xticks(xticks)
    ax.xaxis.set_major_formatter(FormatStrFormatter(fmt))
    ax.set_yticks([0, 1, 2, 3, 4])
    ax2.set_yticks([0, 2, 4, 6, 8, 10, 12])
    ax.xaxis.set_minor_locator(AutoMinorLocator(5))
    ax.yaxis.set_minor_locator(AutoMinorLocator(5))
    ax2.yaxis.set_minor_locator(AutoMinorLocator(2))
    ax.tick_params(which="both", direction="in", top=True, labelsize=12.5, pad=3)
    ax.tick_params(which="major", length=5)
    ax.tick_params(which="minor", length=2.5)
    ax2.tick_params(which="both", direction="in", labelsize=12, pad=1.5)
    ax2.tick_params(which="major", length=5)
    ax2.tick_params(which="minor", length=2.5)
    for a in (ax, ax2):
        for s in a.spines.values():
            s.set_linewidth(1.0)

    ax.set_title(title, fontsize=13.5, pad=4)
    if c == 0 or (r == 0 and c == 1):
        ax.set_ylabel("CHBr$_3$ (ppt)", fontsize=12, labelpad=1)
    if c == 2:
        ax2.set_ylabel("Altitude (km)", fontsize=11.5, labelpad=-1)
    if r == 4:
        ax.set_xlabel("Time (hr past midnight) UTC", fontsize=11.5, labelpad=0)

handles = [
    Line2D([], [], marker="o", color="black", ls="none", ms=8),
    Line2D([], [], marker="x", color="black", ls="none", ms=9, mew=3.2),
    Line2D([], [], color=GREEN, lw=2.8, dashes=(3.5, 3)),
    Line2D([], [], color=ORANGE, lw=2.8),
    Line2D([], [], color=BLUE, lw=2.8),
    Line2D([], [], color=RED, lw=2.8),
]
labels = ["Obs (GhOST-MS)", "Obs (WASP)", "CTM (Liang-2010)", "CTM (Warwick-2011)",
          "CTM (Ordonez-2012)", "CTM (Ziska-2013)"]
leg = fig.legend(handles, labels, loc="upper left", bbox_to_anchor=(37 / W, 1 - 14 / H),
                 fontsize=14.5, frameon=True, fancybox=False, edgecolor="black",
                 handlelength=2.4, labelspacing=0.05, borderpad=0.35, handletextpad=0.8, borderaxespad=0)
leg.get_frame().set_linewidth(1.0)

fig.savefig("out.png", dpi=100)
